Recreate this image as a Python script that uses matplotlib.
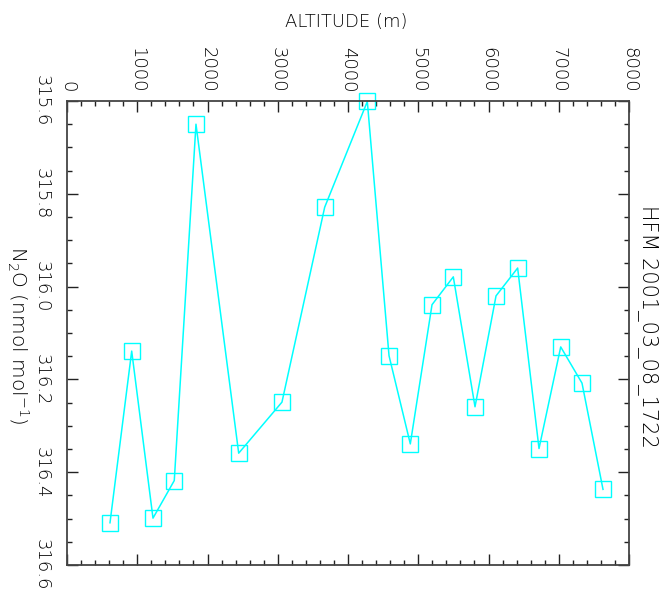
import numpy as np
import matplotlib
matplotlib.use("Agg")
import matplotlib.pyplot as plt
from matplotlib.ticker import MultipleLocator, FormatStrFormatter

# HFM profile, 2001-03-08 17:22
altitude = [612, 921, 1224, 1527, 1836, 2444, 3060, 3668, 4275, 4584,
            4887, 5196, 5499, 5808, 6107, 6415, 6719, 7028, 7331, 7630]
n2o = [316.509, 316.139, 316.499, 316.418, 315.650, 316.359, 316.249,
       315.829, 315.601, 316.149, 316.339, 316.039, 315.979, 316.259,
       316.020, 315.960, 316.349, 316.130, 316.208, 316.437]

flight = "HFM 2001_03_08_1722"

plt.rcParams["font.weight"] = "light"

W, H = 663, 592
fig = plt.figure(figsize=(W / 100, H / 100), dpi=100)
ax = fig.add_axes([67 / W, 27 / H, 562 / W, 464 / H])

ax.plot(altitude, n2o, color="#00ffff", lw=1.1, marker="s", ms=12,
        mfc="none", mec="#00ffff", mew=1.0, clip_on=False)

ax.set_xlim(0, 8000)
ax.set_ylim(316.6, 315.6)

ax.xaxis.set_major_locator(MultipleLocator(1000))
ax.xaxis.set_minor_locator(MultipleLocator(200))
ax.yaxis.set_major_locator(MultipleLocator(0.2))
ax.yaxis.set_minor_locator(MultipleLocator(0.05))
ax.yaxis.set_major_formatter(FormatStrFormatter("%.1f"))

ax.tick_params(which="both", direction="in", top=True, bottom=True,
               left=True, right=True, labeltop=True, labelbottom=False,
               color="#222222", width=1.0)
ax.tick_params(which="major", length=8)
ax.tick_params(which="minor", length=3.8)
ax.tick_params(axis="x", which="major", pad=6, labelsize=13)
ax.tick_params(axis="y", which="major", pad=12, labelsize=13)

for lab in ax.get_xticklabels():
    lab.set_rotation(-90)
for lab in ax.get_yticklabels():
    lab.set_rotation(-90)
    lab.set_verticalalignment("center")

for s in ax.spines.values():
    s.set_color("#444444")
    s.set_linewidth(1.3)

fig.text(346 / W, 1 - 22 / H, "ALTITUDE (m)", ha="center", va="center",
         fontsize=13)
fig.text(18 / W, 1 - 335 / H, r"N$_2$O (nmol mol$^{-1}$)", ha="center",
         va="center", rotation=-90, fontsize=14.5)
fig.text(648 / W, 1 - 326 / H, flight, ha="center", va="center",
         rotation=-90, fontsize=15)

fig.savefig("out.png", dpi=100)
